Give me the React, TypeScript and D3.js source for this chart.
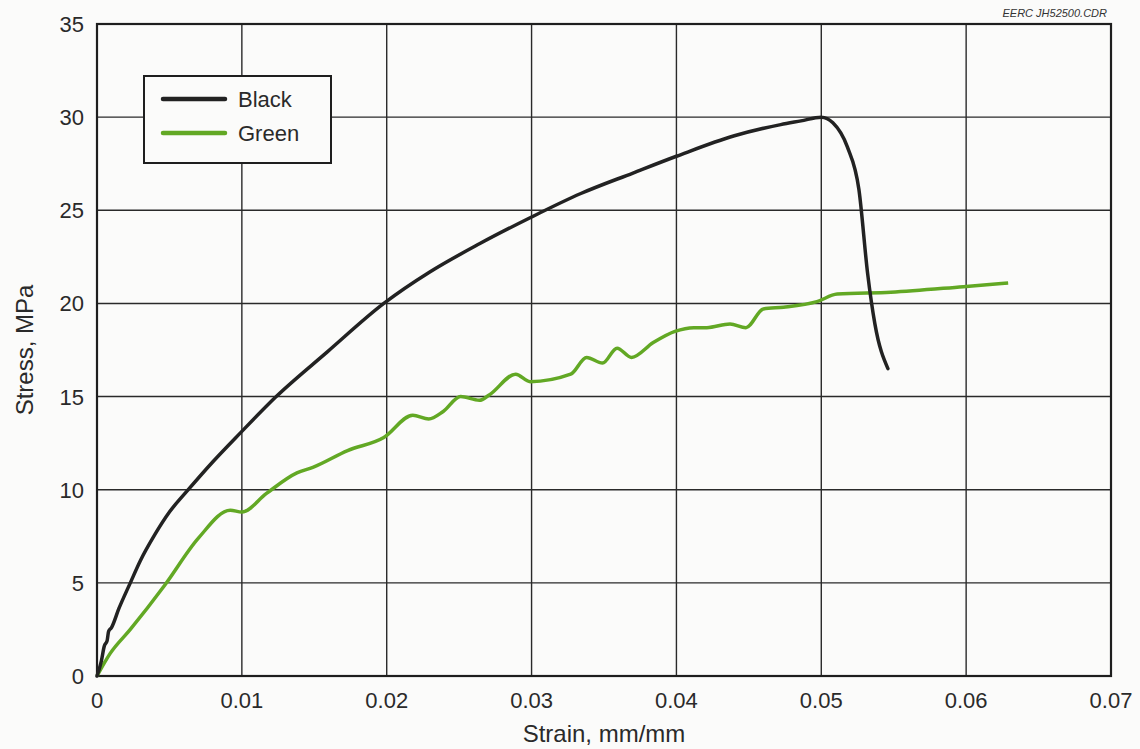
import React, { useEffect, useRef } from "react";
import * as d3 from "d3";

const blackStrain = [0, 0.0003, 0.0005, 0.0007, 0.0008, 0.001, 0.0015, 0.0023, 0.003, 0.004, 0.005, 0.0063, 0.008, 0.0099, 0.0123, 0.0159, 0.0198, 0.023, 0.0264, 0.0299, 0.0334, 0.037, 0.04, 0.044, 0.0472, 0.0486, 0.05, 0.0508, 0.0518, 0.0526, 0.0532, 0.0537, 0.0546];
const blackStress = [0, 0.8, 1.6, 1.9, 2.4, 2.6, 3.6, 5.0, 6.2, 7.6, 8.8, 10.0, 11.5, 13.05, 14.95, 17.4, 20.0, 21.7, 23.2, 24.6, 25.9, 27.0, 27.9, 29.0, 29.6, 29.8, 30.0, 29.7, 28.4, 26.1, 21.6, 18.9, 16.5];

const greenStrain = [0, 0.0009, 0.0023, 0.0047, 0.007, 0.0092, 0.01, 0.0117, 0.0138, 0.0149, 0.0173, 0.0198, 0.0218, 0.0229, 0.0239, 0.0251, 0.0264, 0.0271, 0.0289, 0.0299, 0.0327, 0.0338, 0.0349, 0.0359, 0.0369, 0.0384, 0.0399, 0.0412, 0.0421, 0.0437, 0.0448, 0.046, 0.0474, 0.0497, 0.0511, 0.0548, 0.0598, 0.0629];
const greenStress = [0, 1.2, 2.5, 4.9, 7.4, 8.9, 8.8, 9.8, 10.9, 11.2, 12.1, 12.8, 14.0, 13.8, 14.2, 15.0, 14.8, 15.1, 16.2, 15.8, 16.2, 17.1, 16.8, 17.6, 17.1, 17.9, 18.5, 18.7, 18.7, 18.9, 18.7, 19.7, 19.8, 20.1, 20.5, 20.6, 20.9, 21.1];

const xTicks = [0, 0.01, 0.02, 0.03, 0.04, 0.05, 0.06, 0.07];
const xTickLabels = ["0", "0.01", "0.02", "0.03", "0.04", "0.05", "0.06", "0.07"];
const yTicks = [0, 5, 10, 15, 20, 25, 30, 35];

const seriesNames = ["Black", "Green"];
const seriesColors = ["#222222", "#62a824"];

export default function App() {
  const ref = useRef<SVGSVGElement>(null);
  const width = 1140;
  const height = 749;
  const margin = { top: 24, right: 29, bottom: 73, left: 97 };

  useEffect(() => {
    drawChart();
  }, []);

  function drawChart() {
    const svg = d3.select(ref.current);
    svg.selectAll("*").remove();
    const font = "'Liberation Sans', Arial, sans-serif";

    const x = d3.scaleLinear().domain([0, 0.07]).range([margin.left, width - margin.right]);
    const y = d3.scaleLinear().domain([0, 35]).range([height - margin.bottom, margin.top]);

    svg.append("rect").attr("width", width).attr("height", height).attr("fill", "#fbfbfa");

    // grid
    svg
      .selectAll(".vgrid")
      .data(xTicks)
      .enter()
      .append("line")
      .attr("x1", (d) => x(d))
      .attr("x2", (d) => x(d))
      .attr("y1", y(0))
      .attr("y2", y(35))
      .attr("stroke", "#2a2a2a")
      .attr("stroke-width", 1.4);
    svg
      .selectAll(".hgrid")
      .data(yTicks)
      .enter()
      .append("line")
      .attr("x1", x(0))
      .attr("x2", x(0.07))
      .attr("y1", (d) => y(d))
      .attr("y2", (d) => y(d))
      .attr("stroke", "#2a2a2a")
      .attr("stroke-width", 1.4);

    svg
      .append("rect")
      .attr("x", x(0))
      .attr("y", y(35))
      .attr("width", x(0.07) - x(0))
      .attr("height", y(0) - y(35))
      .attr("fill", "none")
      .attr("stroke", "#1e1e1e")
      .attr("stroke-width", 2.2);

    // tick labels
    svg
      .selectAll(".xlab")
      .data(xTicks)
      .enter()
      .append("text")
      .attr("x", (d) => x(d))
      .attr("y", y(0) + 32)
      .attr("text-anchor", "middle")
      .style("font-family", font)
      .style("font-size", "22px")
      .style("fill", "#2a2a2a")
      .text((d, i) => xTickLabels[i]);
    svg
      .selectAll(".ylab")
      .data(yTicks)
      .enter()
      .append("text")
      .attr("x", x(0) - 13)
      .attr("y", (d) => y(d) + 8)
      .attr("text-anchor", "end")
      .style("font-family", font)
      .style("font-size", "22px")
      .style("fill", "#2a2a2a")
      .text((d) => d);

    svg
      .append("text")
      .attr("x", (x(0) + x(0.07)) / 2)
      .attr("y", 742)
      .attr("text-anchor", "middle")
      .style("font-family", font)
      .style("font-size", "24px")
      .style("fill", "#2a2a2a")
      .text("Strain, mm/mm");
    svg
      .append("text")
      .attr("transform", `translate(33, ${(y(0) + y(35)) / 2}) rotate(-90)`)
      .attr("text-anchor", "middle")
      .style("font-family", font)
      .style("font-size", "24px")
      .style("fill", "#2a2a2a")
      .text("Stress, MPa");

    svg
      .append("text")
      .attr("x", 1107)
      .attr("y", 17)
      .attr("text-anchor", "end")
      .style("font-family", font)
      .style("font-size", "11px")
      .style("font-style", "italic")
      .style("fill", "#333")
      .text("EERC JH52500.CDR");

    // curves
    const line = d3
      .line<[number, number]>()
      .x((d) => x(d[0]))
      .y((d) => y(d[1]))
      .curve(d3.curveMonotoneX);

    const blackData = blackStrain.map((s, i) => [s, blackStress[i]] as [number, number]);
    const greenData = greenStrain.map((s, i) => [s, greenStress[i]] as [number, number]);

    svg
      .append("path")
      .attr("d", line(greenData))
      .attr("fill", "none")
      .attr("stroke", seriesColors[1])
      .attr("stroke-width", 3.5)
      .attr("stroke-linejoin", "round");
    svg
      .append("path")
      .attr("d", line(blackData))
      .attr("fill", "none")
      .attr("stroke", seriesColors[0])
      .attr("stroke-width", 3.5)
      .attr("stroke-linejoin", "round")
      .attr("stroke-linecap", "round");

    // legend
    const legend = svg.append("g").attr("transform", "translate(144, 76)");
    legend
      .append("rect")
      .attr("width", 187)
      .attr("height", 87)
      .attr("fill", "#fbfbfa")
      .attr("stroke", "#1e1e1e")
      .attr("stroke-width", 2);
    const item = legend
      .selectAll(".item")
      .data(seriesNames)
      .enter()
      .append("g")
      .attr("transform", (d, i) => `translate(0, ${23 + i * 34})`);
    item
      .append("line")
      .attr("x1", 19)
      .attr("x2", 81)
      .attr("stroke", (d, i) => seriesColors[i])
      .attr("stroke-width", 4.5)
      .attr("stroke-linecap", "round");
    item
      .append("text")
      .attr("x", 94)
      .attr("y", 8)
      .style("font-family", font)
      .style("font-size", "22px")
      .style("fill", "#2a2a2a")
      .text((d) => d);
  }

  return (
    <svg
      ref={ref}
      width={width}
      height={height}
      style={{ position: "absolute", left: 0, top: 0, display: "block" }}
    />
  );
}
